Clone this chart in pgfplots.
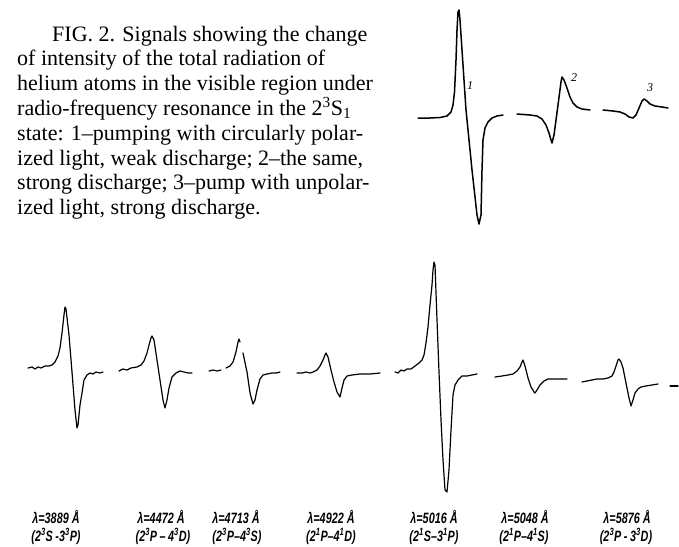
\documentclass[border=0pt]{standalone}
\usepackage{fontspec}
\setmainfont{Liberation Serif}
\newfontfamily\lab[FakeStretch=0.72]{Liberation Sans}
\usepackage{pgfplots}
\pgfplotsset{compat=1.18}
\pgfplotsset{sig/.style={black, mark=none, line width=1.2pt, line join=round, line cap=round}}
\begin{document}
\begin{tikzpicture}
\begin{axis}[scale only axis, width=679pt, height=546pt, xmin=0, xmax=679, ymin=0, ymax=546, y dir=reverse, hide axis, clip=false]
\path (axis cs:0,0) rectangle (axis cs:679,546);
% ---------- top signals ----------
\addplot[sig, line width=1.5pt] coordinates {(418,118) (430,118) (440,117.5) (447,116) (451,112) (453,105) (454.5,92) (456,60) (457,30) (458,12) (459,10) (460,20) (466,110) (472,170) (477,215) (479,224) (481,215) (482,170) (483,140) (485,128) (488,122) (492,118) (497,116) (503,115)};
\addplot[sig, line width=1.5pt] coordinates {(517,114) (530,115) (537,116) (542,119) (546,125) (549,133) (551,140) (552,143) (554,135) (558,105) (561,82) (562,77) (564,80) (567,88) (570,97) (573,103) (577,107) (582,109) (590,110)};
\addplot[sig, line width=1.5pt] coordinates {(603,110) (613,111) (620,112) (625,114) (629,117) (633,118) (636,115) (639,108) (642,101) (644,99) (647,101) (650,104) (655,106) (662,107) (668,108)};
% ---------- bottom signals ----------
\addplot[sig] coordinates {(28,368) (32,367) (35,369) (38,367) (41,368) (45,366) (49,366) (52,365) (55,362) (58,356) (60,348) (62,333) (64,315) (65,307) (66,309) (69,335) (72,372) (75,410) (77,428) (78,425) (80,405) (82,393) (84,380) (87,375) (90,373) (93,374) (96,372) (100,373) (103,372)};
\addplot[sig] coordinates {(119,371) (123,369) (127,370) (131,368) (137,367) (141,365) (144,361) (147,353) (149,345) (151,338) (152,336) (154,340) (157,360) (160,380) (163,400) (165,408) (167,400) (169,388) (172,377) (176,373) (180,371) (184,372) (188,373) (192,373)};
\addplot[sig] coordinates {(209,371) (213,370) (217,371) (221,370)};
\addplot[sig] coordinates {(226,368) (230,366) (233,362) (236,352) (238,342) (239,339) (240,342)};
\addplot[sig] coordinates {(243,353) (247,372) (250,393) (253,404) (255,400) (257,390) (260,379) (263,375) (267,374) (272,373) (276,373) (280,372)};
\addplot[sig] coordinates {(297,373) (302,373) (306,372) (310,373) (313,372) (317,370) (320,366) (323,360) (325,355) (326,353) (328,357) (331,370) (334,382) (337,392) (340,397) (342,388) (344,380) (347,376) (352,375) (360,374) (370,374) (380,373)};
\addplot[sig] coordinates {(395,372) (398,373) (401,370) (404,371) (407,369) (411,369) (415,366) (419,363) (422,360) (424,355) (426,343) (428,327) (430,305) (432,285) (433,270) (434,262) (435,265) (437,320) (439,372) (441,420) (443,460) (445,490) (447,492) (449,470) (451,430) (453,395) (455,385) (458,380) (462,376) (467,376) (472,375) (477,374)};
\addplot[sig] coordinates {(495,377) (502,376) (508,375) (513,374) (517,371) (520,367) (522,362) (523,360) (525,366) (528,378) (531,387) (534,392) (535,393) (537,390) (540,385) (544,381) (548,379) (555,379) (562,379) (567,379)};
\addplot[sig] coordinates {(582,382) (587,381) (592,380) (597,379) (603,379) (608,378) (612,376) (614,372) (616,366) (618,360) (619,359) (621,362) (623,368) (626,383) (629,398) (631,406) (633,400) (635,393) (638,389) (641,387) (646,386) (652,385) (658,384)};
\addplot[sig] coordinates {(670,386) (678,386)};
% ---------- caption ----------
\begin{scope}[every node/.style={anchor=base west, inner sep=0pt, font=\fontsize{22}{26}\selectfont}]
\node at (axis cs:52,41) {FIG. 2. Signals showing the change};
\node at (axis cs:17,65.8) {of intensity of the total radiation of};
\node at (axis cs:17,90.6) {helium atoms in the visible region under};
\node at (axis cs:17,115.4) {radio-frequency resonance in the 2\textsuperscript{3}S\textsubscript{1}};
\node at (axis cs:17,140.2) {state: 1\textendash pumping with circularly polar-};
\node at (axis cs:17,165) {ized light, weak discharge; 2\textendash the same,};
\node at (axis cs:17,189.8) {strong discharge; 3\textendash pump with unpolar-};
\node at (axis cs:17,214.6) {ized light, strong discharge.};
\end{scope}
\node[font=\itshape\fontsize{12}{14}\selectfont] at (axis cs:470,86) {1};
\node[font=\itshape\fontsize{12}{14}\selectfont] at (axis cs:574,78) {2};
\node[font=\itshape\fontsize{12}{14}\selectfont] at (axis cs:650,88) {3};
% ---------- wavelength labels ----------
\begin{scope}[every node/.style={anchor=base, inner sep=0pt, font=\lab\bfseries\itshape\fontsize{15}{17}\selectfont}]
\node at (axis cs:56,523) {λ=3889 Å};
\node at (axis cs:56,541) {(2\textsuperscript{3}S\,-3\textsuperscript{3}P)};
\node at (axis cs:161,523) {λ=4472 Å};
\node at (axis cs:163,541) {(2\textsuperscript{3}P\,–\,4\textsuperscript{3}D)};
\node at (axis cs:236,523) {λ=4713 Å};
\node at (axis cs:237,541) {(2\textsuperscript{3}P–4\textsuperscript{3}S)};
\node at (axis cs:331,523) {λ=4922 Å};
\node at (axis cs:331,541) {(2\textsuperscript{1}P–4\textsuperscript{1}D)};
\node at (axis cs:434,523) {λ=5016 Å};
\node at (axis cs:434,541) {(2\textsuperscript{1}S–3\textsuperscript{1}P)};
\node at (axis cs:525,523) {λ=5048 Å};
\node at (axis cs:524,541) {(2\textsuperscript{1}P–4\textsuperscript{1}S)};
\node at (axis cs:627,523) {λ=5876 Å};
\node at (axis cs:626,541) {(2\textsuperscript{3}P\,-\,3\textsuperscript{3}D)};
\end{scope}
\end{axis}
\end{tikzpicture}
\end{document}
